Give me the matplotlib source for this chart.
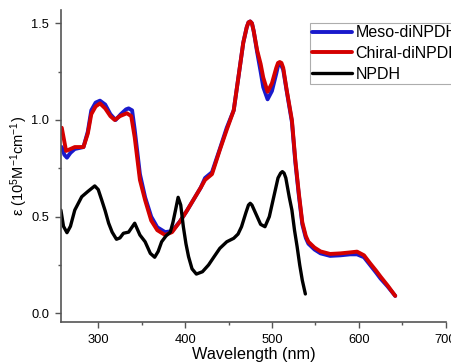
import matplotlib
matplotlib.use("Agg")
import matplotlib.pyplot as plt

plt.rcParams["font.family"] = ["Liberation Sans", "DejaVu Sans"]
plt.rcParams["mathtext.fontset"] = "custom"
plt.rcParams["mathtext.rm"] = "Liberation Sans"
plt.rcParams["mathtext.it"] = "Liberation Sans:italic"
plt.rcParams["mathtext.bf"] = "Liberation Sans:bold"

# Meso-diNPDH (blue)
wl_meso = [258, 261, 264, 268, 273, 283, 288, 292, 297, 302, 308, 314, 320, 326, 332, 335, 339,
           342, 348, 354, 361, 368, 377, 385, 394, 402, 410, 418, 423, 431, 440, 448,
           456, 462, 467, 471, 473, 475, 477, 479, 483, 487, 490, 495, 500, 505, 507, 509, 511, 513, 517,
           523, 527, 531, 535, 539, 542, 549, 556, 567, 579, 590, 598, 606, 613, 620, 625,
           633, 642]
eps_meso = [0.86, 0.82, 0.805, 0.83, 0.85, 0.86, 0.94, 1.05, 1.09, 1.10, 1.08, 1.03, 1.00, 1.03, 1.055, 1.06, 1.05,
            0.95, 0.72, 0.60, 0.50, 0.445, 0.42, 0.425, 0.475, 0.53, 0.59, 0.65, 0.70, 0.73, 0.85, 0.96,
            1.05, 1.24, 1.40, 1.48, 1.505, 1.51, 1.50, 1.46, 1.35, 1.25, 1.17, 1.107, 1.15, 1.24, 1.28, 1.29, 1.28, 1.26, 1.15,
            0.99, 0.78, 0.61, 0.46, 0.39, 0.36, 0.33, 0.31, 0.297, 0.30, 0.305, 0.305, 0.29, 0.25, 0.21, 0.18,
            0.14, 0.09]

# Chiral-diNPDH (red)
wl_chiral = [258, 263, 268, 273, 283, 288, 292, 297, 302, 308, 314, 319, 325, 333, 338,
             342, 348, 354, 361, 368, 377, 385, 394, 402, 410, 418, 423, 431, 440, 448,
             456, 462, 467, 471, 473, 475, 477, 479, 483, 487, 490, 495, 500, 505, 507, 509, 511, 513, 517,
             523, 527, 531, 535, 539, 542, 549, 556, 567, 579, 590, 598, 606, 613, 620, 625,
             633, 642]
eps_chiral = [0.96, 0.84, 0.85, 0.86, 0.86, 0.93, 1.03, 1.07, 1.086, 1.06, 1.02, 1.00, 1.02, 1.035, 1.02,
              0.91, 0.69, 0.585, 0.48, 0.43, 0.405, 0.42, 0.474, 0.53, 0.59, 0.65, 0.69, 0.72, 0.845, 0.95,
              1.05, 1.24, 1.40, 1.48, 1.505, 1.51, 1.50, 1.46, 1.36, 1.29, 1.22, 1.146, 1.19, 1.27, 1.295, 1.30, 1.295, 1.27, 1.155,
              1.00, 0.79, 0.62, 0.47, 0.40, 0.37, 0.34, 0.32, 0.307, 0.31, 0.315, 0.319, 0.30, 0.259, 0.22, 0.19,
              0.145, 0.09]

# NPDH (black)
wl_npdh = [257, 260, 264, 268, 273, 281, 288, 296, 300, 304, 308, 312, 316, 321, 325,
           329, 335, 342, 348, 354, 360, 365, 369, 373, 378, 383, 386, 389, 392, 395,
           398, 401, 404, 408, 413, 420, 427, 433, 440, 448, 456, 461, 465, 470, 473, 475, 477,
           479, 483, 487, 492, 497, 502, 507, 510, 512, 514, 516, 520, 523, 526, 529, 532, 535,
           538.5]
eps_npdh = [0.534, 0.45, 0.417, 0.45, 0.534, 0.603, 0.63, 0.659, 0.64, 0.586, 0.53, 0.466, 0.42, 0.383, 0.39,
            0.414, 0.42, 0.466, 0.405, 0.37, 0.31, 0.29, 0.32, 0.37, 0.40, 0.42, 0.47, 0.534, 0.60, 0.56,
            0.448, 0.36, 0.293, 0.23, 0.203, 0.215, 0.25, 0.29, 0.336, 0.37, 0.388, 0.41, 0.448, 0.52, 0.56, 0.569, 0.56,
            0.54, 0.50, 0.46, 0.448, 0.50, 0.60, 0.70, 0.725, 0.733, 0.725, 0.70, 0.60, 0.534, 0.43, 0.345, 0.25, 0.17,
            0.10]

fig = plt.figure(figsize=(4.51, 3.64), dpi=100)
ax = fig.add_axes([0.135, 0.1154, 0.855, 0.8571])

kw = dict(solid_joinstyle="round", solid_capstyle="round")
ax.plot(wl_meso, eps_meso, color="#1a1acc", lw=2.8, label="Meso-diNPDH", **kw)
ax.plot(wl_chiral, eps_chiral, color="#d40000", lw=2.8, label="Chiral-diNPDH", **kw)
ax.plot(wl_npdh, eps_npdh, color="black", lw=2.4, label="NPDH", **kw)

ax.set_xlim(257, 701)
ax.set_ylim(-0.045, 1.569)
ax.set_xticks([300, 400, 500, 600, 700])
ax.set_xticks([350, 450, 550, 650], minor=True)
ax.set_yticks([0.0, 0.5, 1.0, 1.5])
ax.set_yticks([0.25, 0.75, 1.25], minor=True)
ax.set_xticklabels(["300", "400", "500", "600", "700"])
ax.set_yticklabels(["0.0", "0.5", "1.0", "1.5"])

for s in ("top", "right"):
    ax.spines[s].set_visible(False)
for s in ("left", "bottom"):
    ax.spines[s].set_color("#555555")
    ax.spines[s].set_linewidth(1.2)
ax.tick_params(which="major", direction="out", length=4.5, width=1, color="#555555",
               labelsize=9.3, pad=4)
ax.tick_params(which="minor", direction="out", length=2.5, width=1, color="#555555")

ax.set_xlabel("Wavelength (nm)", fontsize=11.7, labelpad=1)
ax.set_ylabel(r"ε (10$^5$M$^{-1}$cm$^{-1}$)", fontsize=10.5)
ax.yaxis.set_label_coords(-0.08, 0.5)

leg = ax.legend(loc="upper left", bbox_to_anchor=(310 / 451, 1 - 23 / 364),
                bbox_transform=fig.transFigure, fontsize=11.5, frameon=True,
                fancybox=False, borderpad=0.15, handlelength=2.5, handletextpad=0.2,
                labelspacing=0.35, borderaxespad=0)
leg.get_frame().set_edgecolor("#999999")
leg.get_frame().set_linewidth(0.8)

fig.savefig("out.png", dpi=100)
